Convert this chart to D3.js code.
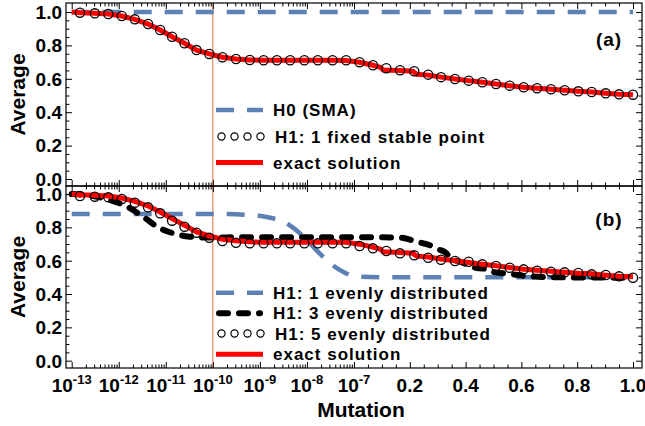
<!DOCTYPE html>
<html>
<head>
<meta charset="utf-8">
<script src="https://cdn.jsdelivr.net/npm/d3@7"></script>
<style>
  body { margin: 0; background: #fff; }
  svg { display: block; font-family: "Liberation Sans", Arial, sans-serif; font-weight: bold; }
</style>
</head>
<body>
<script>
// ---- data ----
// mutation values where the circle markers sit
const sampleMu = [1.5e-13, 3.1e-13, 6.0e-13, 1.16e-12, 2.2e-12, 4.2e-12, 7.6e-12, 1.36e-11, 2.5e-11, 4.5e-11,
  8.4e-11, 1.6e-10, 3.1e-10, 6.1e-10, 1.2e-9, 2.3e-9, 4.4e-9, 8.8e-9, 1.7e-8, 3.5e-8, 6.8e-8,
  0.02, 0.068, 0.116, 0.165, 0.216, 0.266, 0.312, 0.362, 0.411, 0.46, 0.509, 0.558, 0.608, 0.656, 0.706,
  0.755, 0.804, 0.852, 0.902, 0.95, 1.0]

// (a) H1: 1 fixed stable point
const fixedPointAvg = [0.996, 0.992, 0.988, 0.976, 0.956, 0.928, 0.892, 0.852, 0.813, 0.772,
  0.749, 0.729, 0.719, 0.713, 0.711, 0.711, 0.711, 0.711, 0.711, 0.711, 0.711,
  0.699, 0.681, 0.663, 0.651, 0.645, 0.625, 0.61, 0.599, 0.589, 0.579, 0.569, 0.559, 0.549, 0.543, 0.537,
  0.531, 0.525, 0.521, 0.513, 0.507, 0.505]

// (b) H1: 5 evenly distributed
const fiveEvenAvg = [0.988, 0.984, 0.980, 0.970, 0.948, 0.920, 0.884, 0.840, 0.804, 0.768,
  0.738, 0.718, 0.708, 0.704, 0.704, 0.704, 0.704, 0.704, 0.704, 0.704, 0.704,
  0.688, 0.674, 0.658, 0.644, 0.632, 0.618, 0.606, 0.598, 0.594, 0.578, 0.568, 0.558, 0.548, 0.540, 0.534,
  0.530, 0.526, 0.518, 0.514, 0.506, 0.498]

// exact solution (same curve in both panels)
const exactMu = [1e-13, 1.5e-13, 3.1e-13, 6.0e-13, 1.16e-12, 2.2e-12, 4.2e-12, 7.6e-12, 1.36e-11, 2.5e-11, 4.5e-11,
  8.4e-11, 1.6e-10, 3.1e-10, 6.1e-10, 1.2e-9, 2.3e-9, 4.4e-9, 8.8e-9, 1.7e-8, 3.5e-8, 6.8e-8,
  0.02, 0.068, 0.095, 0.105, 0.165, 0.21, 0.225, 0.266, 0.312, 0.362, 0.411, 0.46, 0.509, 0.558, 0.608,
  0.656, 0.706, 0.755, 0.804, 0.852, 0.902, 0.95, 1.0]
const exactAvg = [1.0, 0.996, 0.992, 0.988, 0.976, 0.956, 0.928, 0.892, 0.852, 0.813, 0.772,
  0.749, 0.729, 0.719, 0.713, 0.711, 0.711, 0.711, 0.711, 0.711, 0.711, 0.71,
  0.699, 0.681, 0.668, 0.653, 0.649, 0.645, 0.627, 0.622, 0.61, 0.599, 0.589, 0.579, 0.569, 0.559, 0.549,
  0.543, 0.537, 0.531, 0.525, 0.521, 0.513, 0.507, 0.504]

// (a) H0 (SMA)
const smaMu = [1e-13, 1.0]
const smaAvg = [1.0, 1.0]

// (b) H1: 1 evenly distributed
const oneEvenMu = [1e-13, 1e-10, 5e-10, 1.4e-9, 3.7e-9, 7.1e-9, 1.35e-8, 2.6e-8, 5e-8, 0.01, 0.12, 1.0]
const oneEvenAvg = [0.88, 0.88, 0.876, 0.862, 0.824, 0.764, 0.684, 0.604, 0.544, 0.505, 0.5, 0.5]

// (b) H1: 3 evenly distributed
const threeEvenMu = [1e-13, 2.9e-13, 6.5e-13, 1.5e-12, 3.3e-12, 6.5e-12, 1.45e-11, 3.2e-11, 7.4e-11, 1e-9, 1e-8,
  0.05, 0.165, 0.225, 0.284, 0.30, 0.33, 0.35, 0.38, 0.41, 0.44, 0.48, 0.50, 0.54, 0.57, 0.63, 0.75, 1.0]
const threeEvenAvg = [1.0, 0.988, 0.964, 0.924, 0.864, 0.804, 0.764, 0.744, 0.739, 0.741, 0.741,
  0.741, 0.738, 0.714, 0.684, 0.67, 0.646, 0.608, 0.594, 0.574, 0.556, 0.55, 0.532, 0.524, 0.518, 0.506, 0.5, 0.498]

// ticks and labels
const logDecades = [-13, -12, -11, -10, -9, -8, -7]
const linTicks = [0.2, 0.4, 0.6, 0.8, 1.0]
const yTicks = [0, 0.2, 0.4, 0.6, 0.8, 1.0]
const legendA = ['H0 (SMA)', 'H1: 1 fixed stable point', 'exact solution']
const legendB = ['H1: 1 evenly distributed', 'H1: 3 evenly distributed', 'H1: 5 evenly distributed', 'exact solution']
const panelTags = ['(a)', '(b)']

// ---- layout ----
const width = 645
const height = 426
const frameL = 66
const frameR = 642
const blue = '#5e81b5'
const red = '#ff0000'

const svg = d3.select('body').append('svg')
  .attr('width', width)
  .attr('height', height)

// broken x axis: log decades on the left, linear 0..1 on the right
const xLog = d3.scaleLog().domain([1e-13, 1e-7]).range([71.7, 354])
const xLin = d3.scaleLinear().domain([0, 1]).range([354, 633])
const xPos = m => (m < 1e-6 ? xLog(m) : xLin(m))

const logMajors = logDecades.map(d => Math.pow(10, d))
const logMinors = []
logDecades.slice(0, -1).forEach(d => {
  for (let k = 2; k <= 9; k++) logMinors.push(k * Math.pow(10, d))
})
const linMinors = d3.range(1, 20).map(i => i * 0.05).filter(v => Math.abs(v / 0.2 - Math.round(v / 0.2)) > 1e-6)
const yMinors = d3.range(0, 21).map(i => i * 0.05).filter(v => Math.abs(v / 0.2 - Math.round(v / 0.2)) > 1e-6)

const panels = [
  { top: 3, bottom: 186, y0: 179, y1: 12 },
  { top: 186, bottom: 368, y0: 360.7, y1: 194 }
]
panels.forEach(p => {
  p.y = d3.scaleLinear().domain([0, 1]).range([p.y0, p.y1])
})

// vertical marker at 1e-10
svg.append('line')
  .attr('x1', xLog(1e-10)).attr('x2', xLog(1e-10))
  .attr('y1', panels[0].top).attr('y2', panels[1].bottom)
  .attr('stroke', '#e36a3c')
  .attr('stroke-width', 1)

const line = (yScale, curve) => d3.line()
  .x(d => xPos(d[0]))
  .y(d => yScale(d[1]))
  .curve(curve || d3.curveLinear)

const zip = (a, b) => a.map((v, i) => [v, b[i]])

function ticks(g, p) {
  const addAxis = (axis, tx, ty) => {
    g.append('g')
      .attr('transform', `translate(${tx},${ty})`)
      .call(axis)
      .call(s => s.select('.domain').remove())
      .call(s => s.selectAll('line').attr('stroke', '#000').attr('stroke-width', 1))
  }
  const sets = [[logMajors, xLog, 6], [logMinors, xLog, 3.5], [linTicks, xLin, 6], [linMinors, xLin, 3.5]]
  sets.forEach(([vals, sc, len]) => {
    addAxis(d3.axisBottom(sc).tickValues(vals).tickSize(-len).tickFormat(''), 0, p.bottom)
    addAxis(d3.axisTop(sc).tickValues(vals).tickSize(-len).tickFormat(''), 0, p.top)
  });
  [[yTicks, 6], [yMinors, 3.5]].forEach(([vals, len]) => {
    addAxis(d3.axisLeft(p.y).tickValues(vals).tickSize(-len).tickFormat(''), frameL, 0)
    addAxis(d3.axisRight(p.y).tickValues(vals).tickSize(-len).tickFormat(''), frameR, 0)
  })
  // y tick labels
  g.append('g').selectAll('text')
    .data(yTicks)
    .enter().append('text')
    .attr('x', 62)
    .attr('y', d => p.y(d))
    .attr('dy', '0.36em')
    .attr('text-anchor', 'end')
    .attr('font-size', 19)
    .text(d => d.toFixed(1))
  // frame
  g.append('rect')
    .attr('x', frameL).attr('y', p.top)
    .attr('width', frameR - frameL).attr('height', p.bottom - p.top)
    .attr('fill', 'none').attr('stroke', '#000').attr('stroke-width', 1.2)
}

function circles(g, yScale, vals) {
  g.append('g').selectAll('circle')
    .data(zip(sampleMu, vals))
    .enter().append('circle')
    .attr('cx', d => xPos(d[0]))
    .attr('cy', d => yScale(d[1]))
    .attr('r', 4.6)
    .attr('fill', 'none')
    .attr('stroke', '#000')
    .attr('stroke-width', 1.3)
}

const styles = {
  blueDash: s => s.attr('stroke', blue).attr('stroke-width', 4.5).attr('stroke-dasharray', '18,13'),
  blackDash: s => s.attr('stroke', '#000').attr('stroke-width', 6).attr('stroke-linecap', 'round').attr('stroke-dasharray', '9,11'),
  red: s => s.attr('stroke', red).attr('stroke-width', 5)
}

function legend(g, labels, types, rows) {
  labels.forEach((lab, i) => {
    const yy = rows[i]
    if (types[i] === 'circles') {
      g.append('g').selectAll('circle')
        .data([0, 1, 2, 3])
        .enter().append('circle')
        .attr('cx', d => 221.5 + d * 13)
        .attr('cy', yy)
        .attr('r', 3.6)
        .attr('fill', 'none')
        .attr('stroke', '#000')
        .attr('stroke-width', 1.2)
    } else {
      const x0 = types[i] === 'blackDash' ? 219 : 216
      const x1 = types[i] === 'blackDash' ? 260 : 263
      g.append('line')
        .attr('x1', x0).attr('x2', x1).attr('y1', yy).attr('y2', yy)
        .call(styles[types[i]])
    }
    g.append('text')
      .attr('x', types[i] === 'circles' ? 275 : 273)
      .attr('y', yy + 6)
      .attr('font-size', 17)
      .attr('letter-spacing', 1)
      .text(lab)
  })
}

// ---- panel (a) ----
const pa = panels[0]
const ga = svg.append('g')
ticks(ga, pa)
ga.append('path').datum(zip(smaMu, smaAvg)).attr('d', line(pa.y)).attr('fill', 'none').call(styles.blueDash)
ga.append('path').datum(zip(exactMu, exactAvg)).attr('d', line(pa.y)).attr('fill', 'none').call(styles.red)
circles(ga, pa.y, fixedPointAvg)
legend(ga, legendA, ['blueDash', 'circles', 'red'], [110, 136.5, 162.5])
ga.append('text').attr('x', 609).attr('y', 46).attr('text-anchor', 'middle')
  .attr('font-size', 19).attr('letter-spacing', 1).text(panelTags[0])

// ---- panel (b) ----
const pb = panels[1]
const gb = svg.append('g')
ticks(gb, pb)
gb.append('path').datum(zip(oneEvenMu, oneEvenAvg)).attr('d', line(pb.y, d3.curveMonotoneX)).attr('fill', 'none').call(styles.blueDash)
gb.append('path').datum(zip(threeEvenMu, threeEvenAvg)).attr('d', line(pb.y, d3.curveMonotoneX)).attr('fill', 'none').call(styles.blackDash)
gb.append('path').datum(zip(exactMu, exactAvg)).attr('d', line(pb.y)).attr('fill', 'none').call(styles.red)
circles(gb, pb.y, fiveEvenAvg)
legend(gb, legendB, ['blueDash', 'blackDash', 'circles', 'red'], [292.7, 313.3, 333.5, 354.3])
gb.append('text').attr('x', 609).attr('y', 226).attr('text-anchor', 'middle')
  .attr('font-size', 19).attr('letter-spacing', 1).text(panelTags[1])

// ---- x tick labels ----
const xl = svg.append('g').attr('font-size', 19)
logDecades.forEach(d => {
  const t = xl.append('text')
    .attr('x', xLog(Math.pow(10, d)))
    .attr('y', 392)
    .attr('text-anchor', 'middle')
  t.append('tspan').text('10')
  t.append('tspan').attr('font-size', 13).attr('dy', -8).text(String(d))
})
linTicks.forEach(v => {
  xl.append('text')
    .attr('x', xLin(v))
    .attr('y', 392)
    .attr('text-anchor', 'middle')
    .text(v.toFixed(1))
})

// ---- axis titles ----
svg.append('text')
  .attr('x', 361).attr('y', 417)
  .attr('text-anchor', 'middle')
  .attr('font-size', 21)
  .text('Mutation')
panels.forEach(p => {
  svg.append('text')
    .attr('transform', `translate(25,${(p.top + p.bottom) / 2}) rotate(-90)`)
    .attr('text-anchor', 'middle')
    .attr('font-size', 21)
    .text('Average')
})
</script>
</body>
</html>
